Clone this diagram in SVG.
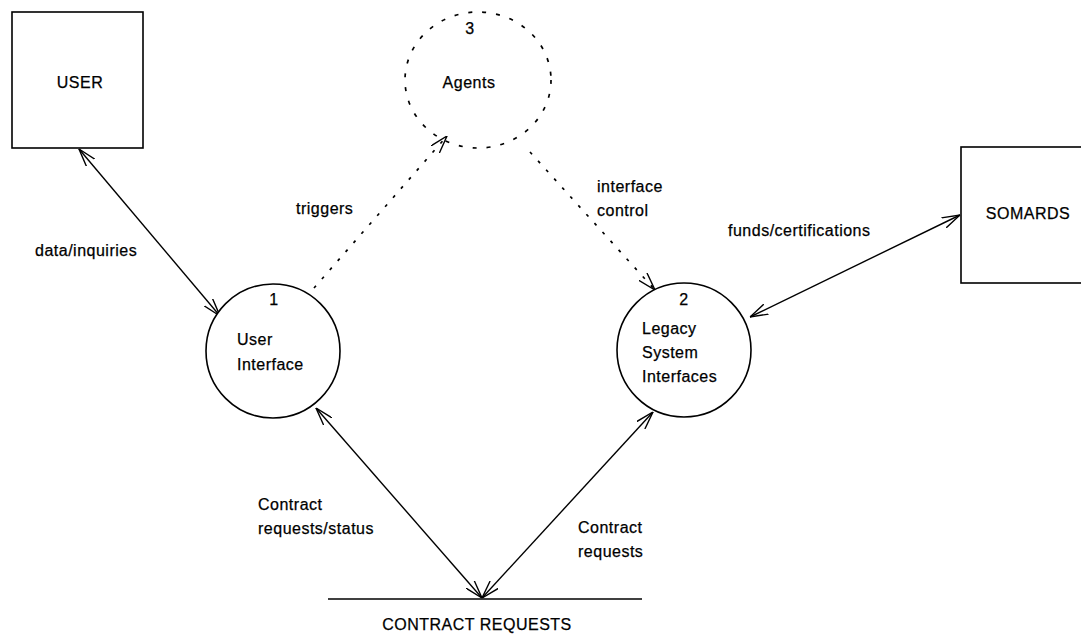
<svg xmlns="http://www.w3.org/2000/svg" width="1081" height="640" viewBox="0 0 1081 640">
<defs>
<style>
.t{font-family:"Liberation Sans",Arial,sans-serif;font-size:16px;fill:#000;stroke:#000;stroke-width:0.25;letter-spacing:0.5px}
.b{fill:#fff;stroke:#000;stroke-width:1.6}
.ln{stroke:#000;stroke-width:1.4;fill:none}
.dl{stroke:#000;stroke-width:1.7;fill:none;stroke-dasharray:3 9}
</style>
<marker id="arr" viewBox="0 0 18 12" refX="18" refY="6" markerWidth="18" markerHeight="12" orient="auto-start-reverse" markerUnits="userSpaceOnUse">
<path d="M0,0.5 L18,6 L0,11.5" fill="none" stroke="#000" stroke-width="1.4"/>
</marker>
</defs>
<rect width="1081" height="640" fill="#fff"/>
<g id="connectors">
<line class="ln" x1="79" y1="149" x2="220" y2="316" marker-start="url(#arr)" marker-end="url(#arr)"/>
<line class="dl" x1="314" y1="288" x2="447" y2="136" marker-end="url(#arr)"/>
<line class="dl" x1="530" y1="152" x2="655" y2="290" marker-end="url(#arr)"/>
<line class="ln" x1="750" y1="317" x2="960" y2="215" marker-start="url(#arr)" marker-end="url(#arr)"/>
<line class="ln" x1="316" y1="408" x2="482" y2="598" marker-start="url(#arr)" marker-end="url(#arr)"/>
<line class="ln" x1="482" y1="598" x2="653" y2="412" marker-start="url(#arr)" marker-end="url(#arr)"/>
<text class="t" x="35" y="256">data/inquiries</text>
<text class="t" x="296" y="214">triggers</text>
<text class="t" x="597" y="192">interface</text>
<text class="t" x="597" y="216">control</text>
<text class="t" x="728" y="236">funds/certifications</text>
<text class="t" x="258" y="510">Contract</text>
<text class="t" x="258" y="534">requests/status</text>
<text class="t" x="578" y="533">Contract</text>
<text class="t" x="578" y="557">requests</text>
</g>
<g id="user">
<rect class="b" x="12" y="12" width="131" height="136"/>
<text class="t" x="80" y="88" text-anchor="middle">USER</text>
</g>
<g id="agents">
<ellipse cx="478" cy="80" rx="73" ry="68" fill="none" stroke="#000" stroke-width="1.7" stroke-dasharray="4 10"/>
<text class="t" x="470" y="34" text-anchor="middle">3</text>
<text class="t" x="469" y="88" text-anchor="middle">Agents</text>
</g>
<g id="somards">
<rect class="b" x="961" y="147" width="140" height="136"/>
<text class="t" x="1028" y="219" text-anchor="middle">SOMARDS</text>
</g>
<g id="p1">
<circle class="b" cx="273" cy="351" r="67"/>
<text class="t" x="274" y="305" text-anchor="middle">1</text>
<text class="t" x="237" y="345">User</text>
<text class="t" x="237" y="370">Interface</text>
</g>
<g id="p2">
<circle class="b" cx="684" cy="350" r="67"/>
<text class="t" x="684" y="305" text-anchor="middle">2</text>
<text class="t" x="642" y="334">Legacy</text>
<text class="t" x="642" y="358">System</text>
<text class="t" x="642" y="382">Interfaces</text>
</g>
<g id="store">
<line class="ln" x1="328" y1="599" x2="642" y2="599"/>
<text class="t" x="477" y="630" text-anchor="middle">CONTRACT REQUESTS</text>
</g>
</svg>
